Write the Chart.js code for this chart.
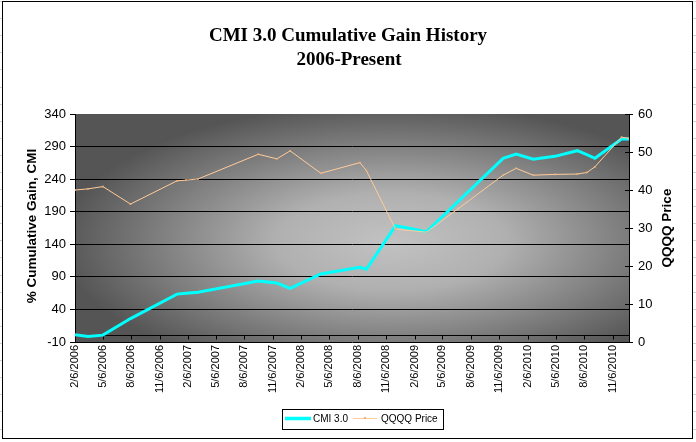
<!DOCTYPE html>
<html>
<head>
<meta charset="utf-8">
<script src="https://cdn.jsdelivr.net/npm/chart.js@4.4.1/dist/chart.umd.min.js"></script>
<style>
html, body { margin: 0; padding: 0; background: #fff; }
canvas { display: block; }
</style>
</head>
<body>
<canvas id="gainchart" width="696" height="442"></canvas>
<script>
// dates of the line vertices (M/D/YYYY) and the two series
const pointDates = [
  "2/6/2006", "3/20/2006", "5/7/2006", "8/4/2006", "1/1/2007", "1/30/2007",
  "3/10/2007", "9/20/2007", "11/19/2007", "1/1/2008", "4/9/2008", "8/13/2008",
  "9/3/2008", "12/6/2008", "3/16/2009", "11/18/2009", "12/30/2009", "2/23/2010",
  "5/4/2010", "7/15/2010", "8/15/2010", "9/10/2010", "12/5/2010", "12/29/2010"
];
const cmiGain = [
  1, -1.5, 0.5, 26, 63.5, 64.8,
  66.3, 83.6, 80.5, 72.4, 94.4, 104.7,
  101.6, 168.5, 159.3, 272, 278.6, 270.5,
  275, 283.7, 277.5, 272, 301.6, 301.6
];
const qqqqPrice = [
  40.0, 40.3, 40.9, 36.3, 42.4, 42.6,
  42.9, 49.4, 48.2, 50.3, 44.4, 47.2,
  45.1, 29.7, 28.9, 43.9, 45.7, 43.9,
  44.1, 44.2, 44.6, 46.1, 53.9, 53.6
];
const dateTicks = [
  "2/6/2006", "5/6/2006", "8/6/2006", "11/6/2006",
  "2/6/2007", "5/6/2007", "8/6/2007", "11/6/2007",
  "2/6/2008", "5/6/2008", "8/6/2008", "11/6/2008",
  "2/6/2009", "5/6/2009", "8/6/2009", "11/6/2009",
  "2/6/2010", "5/6/2010", "8/6/2010", "11/6/2010"
];
const gainTicks = [-10, 40, 90, 140, 190, 240, 290, 340];
const priceTicks = [0, 10, 20, 30, 40, 50, 60];
const lastDate = "12/29/2010";

function dayNum(s) {
  var p = s.split("/").map(Number);
  return (Date.UTC(p[2], p[0] - 1, p[1]) - Date.UTC(2006, 1, 6)) / 86400000;
}

var sans = "'Liberation Sans', Arial, sans-serif";

var sheet = {
  id: "sheet",
  beforeDraw: function (chart) {
    var c = chart.ctx, a = chart.chartArea;
    c.save();
    c.fillStyle = "#fff";
    c.fillRect(0, 0, chart.width, chart.height);
    // spreadsheet cell lines peeking out at the sides
    c.strokeStyle = "#d4d4d4";
    c.lineWidth = 1;
    for (var y = 1; y < chart.height; y += 17.1) {
      var yy = Math.round(y) + 0.5;
      c.beginPath();
      c.moveTo(0, yy); c.lineTo(3, yy);
      c.moveTo(693, yy); c.lineTo(696, yy);
      c.stroke();
    }
    c.strokeStyle = "#000";
    c.strokeRect(2.5, 1.5, 690, 437);
    // plot area shading, light in the middle
    var cx = a.left + (a.right - a.left) * 0.57, cy = a.top + (a.bottom - a.top) * 0.56;
    c.save();
    c.beginPath();
    c.rect(a.left, a.top, a.right - a.left, a.bottom - a.top);
    c.clip();
    c.translate(cx, cy);
    c.scale(1, 0.42);
    var g = c.createRadialGradient(0, 0, 0, 0, 0, 330);
    g.addColorStop(0, "#c2c2c2");
    g.addColorStop(0.35, "#b0b0b0");
    g.addColorStop(1, "#555555");
    c.fillStyle = g;
    c.fillRect(-400, -700, 800, 1400);
    c.restore();
    c.restore();
  },
  beforeDatasetsDraw: function (chart) {
    var c = chart.ctx, a = chart.chartArea;
    var y0 = Math.round(chart.scales.y.getPixelForValue(0)) + 0.5;
    c.save();
    c.strokeStyle = "#000";
    c.lineWidth = 1;
    c.beginPath();
    c.moveTo(a.left, y0); c.lineTo(a.right, y0);
    chart.scales.x.ticks.forEach(function (t) {
      var x = Math.round(chart.scales.x.getPixelForValue(t.value)) + 0.5;
      c.moveTo(x, y0); c.lineTo(x, y0 + 4);
    });
    // inner half of the cross ticks on the price axis
    chart.scales.y2.ticks.forEach(function (t) {
      var y = Math.round(chart.scales.y2.getPixelForValue(t.value)) + 0.5;
      c.moveTo(a.right - 4, y); c.lineTo(a.right, y);
    });
    c.stroke();
    c.restore();
  },
  afterDraw: function (chart) {
    var c = chart.ctx, ds = chart.data.datasets;
    c.save();
    c.fillStyle = "#000";
    c.textAlign = "center";
    c.textBaseline = "alphabetic";
    c.font = "bold 19px 'Liberation Serif', 'Times New Roman', serif";
    c.fillText("CMI 3.0 Cumulative Gain History", 348, 41);
    c.fillText("2006-Present", 349, 65);

    c.font = "bold 13.5px " + sans;
    c.save();
    c.translate(35.5, 226);
    c.rotate(-Math.PI / 2);
    c.fillText("% Cumulative Gain, CMI", 0, 0);
    c.restore();
    c.save();
    c.translate(671, 228);
    c.rotate(-Math.PI / 2);
    c.fillText("QQQQ Price", 0, 0);
    c.restore();

    // legend
    c.fillStyle = "#fff";
    c.fillRect(282.5, 409.5, 161, 20);
    c.strokeStyle = "#000";
    c.lineWidth = 1;
    c.strokeRect(282.5, 409.5, 161, 20);
    c.lineWidth = 3.5;
    c.strokeStyle = ds[0].borderColor;
    c.beginPath(); c.moveTo(285, 418.5); c.lineTo(311, 418.5); c.stroke();
    c.lineWidth = 1;
    c.strokeStyle = ds[1].borderColor;
    c.beginPath(); c.moveTo(353, 418.5); c.lineTo(377, 418.5); c.stroke();
    c.fillStyle = ds[1].pointBackgroundColor;
    c.fillRect(364, 417, 2, 2);
    c.fillStyle = "#000";
    c.textAlign = "left";
    c.textBaseline = "middle";
    c.font = "10px " + sans;
    c.fillText(ds[0].label, 313, 419);
    c.fillText(ds[1].label, 381, 419);
    c.restore();
  }
};

new Chart(document.getElementById("gainchart"), {
  type: "line",
  data: {
    datasets: [
      {
        label: "CMI 3.0",
        data: pointDates.map(function (d, i) { return { x: dayNum(d), y: cmiGain[i] }; }),
        yAxisID: "y",
        borderColor: "#00FFFF",
        borderWidth: 3,
        pointRadius: 0,
        tension: 0,
        order: 1
      },
      {
        label: "QQQQ Price",
        data: pointDates.map(function (d, i) { return { x: dayNum(d), y: qqqqPrice[i] }; }),
        yAxisID: "y2",
        borderColor: "#FFCC99",
        borderWidth: 1,
        pointRadius: 1.2,
        pointStyle: "rect",
        pointBackgroundColor: "#F0B07A",
        pointBorderWidth: 0,
        tension: 0,
        order: 0
      }
    ]
  },
  options: {
    responsive: false,
    animation: false,
    devicePixelRatio: 1,
    layout: { padding: { top: 114, left: 0, right: 0, bottom: 0 } },
    plugins: { legend: { display: false }, tooltip: { enabled: false }, title: { display: false } },
    scales: {
      x: {
        type: "linear",
        min: 0,
        max: dayNum(lastDate),
        afterBuildTicks: function (s) { s.ticks = dateTicks.map(function (d) { return { value: dayNum(d) }; }); },
        afterFit: function (s) { s.height = 100; },
        grid: { display: false, drawTicks: false },
        border: { display: false },
        ticks: {
          autoSkip: false,
          minRotation: 90,
          maxRotation: 90,
          padding: 3,
          color: "#000",
          font: { family: sans, size: 11 },
          callback: function (v, i) { return dateTicks[i]; }
        }
      },
      y: {
        position: "left",
        min: -10,
        max: 340,
        afterBuildTicks: function (s) { s.ticks = gainTicks.map(function (v) { return { value: v }; }); },
        afterFit: function (s) { s.width = 75; },
        grid: {
          color: function (ctx) { return ctx.tick && ctx.tick.value === 340 ? "rgba(0,0,0,0)" : "#000"; },
          tickColor: "#000",
          tickLength: 5,
          lineWidth: 1
        },
        border: { color: "#000" },
        ticks: { padding: 4, color: "#000", font: { family: sans, size: 13 } }
      },
      y2: {
        position: "right",
        min: 0,
        max: 60,
        afterBuildTicks: function (s) { s.ticks = priceTicks.map(function (v) { return { value: v }; }); },
        afterFit: function (s) { s.width = 67; },
        grid: { drawOnChartArea: false, tickColor: "#000", tickLength: 4 },
        border: { color: "#000" },
        ticks: { padding: 5, color: "#000", font: { family: sans, size: 13 } }
      }
    }
  },
  plugins: [sheet]
});
</script>
</body>
</html>
